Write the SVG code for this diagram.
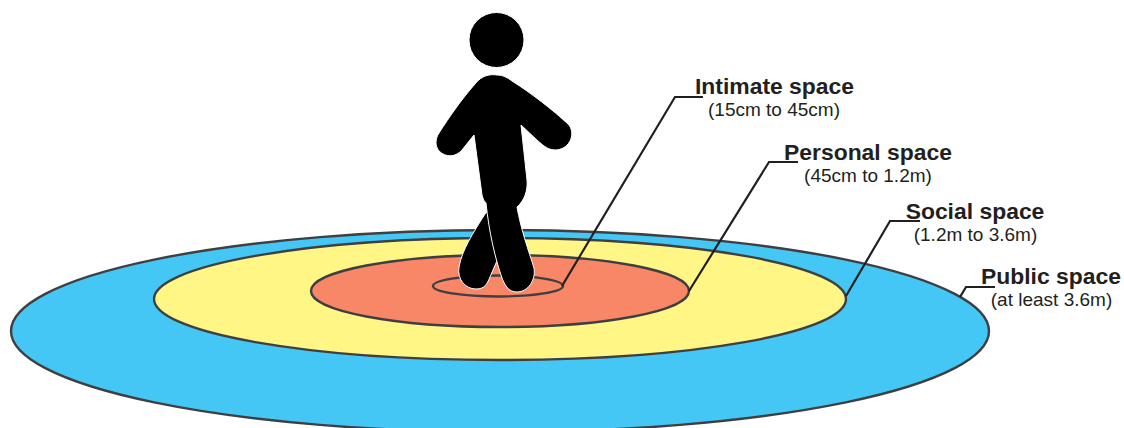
<svg xmlns="http://www.w3.org/2000/svg" width="1124" height="428" viewBox="0 0 1124 428">
<style>
.zone{stroke:#3f3f42;stroke-width:2.4}
.lead{fill:none;stroke:#231f20;stroke-width:2.2}
.title{font:bold 22.9px "Liberation Sans",Arial,sans-serif;fill:#231f20}
.sub{font:19px "Liberation Sans",Arial,sans-serif;fill:#231f20}
.fig{fill:#000;stroke:#fff;stroke-width:1}
text{text-anchor:middle}
</style>
<rect width="1124" height="428" fill="#fff"/>
<g id="public-zone"><ellipse class="zone" cx="500" cy="331" rx="489" ry="101" fill="#44c7f4"/></g>
<g id="social-zone"><ellipse class="zone" cx="500" cy="299" rx="346" ry="61" fill="#fff685"/></g>
<g id="personal-zone"><ellipse class="zone" cx="500" cy="291" rx="189" ry="36" fill="#f78766"/></g>
<g id="intimate-zone"><ellipse class="zone" cx="498" cy="286" rx="65" ry="10.5" fill="none"/></g>
<g id="connectors">
<path class="lead" d="M562 286L675 97H703"/>
<path class="lead" d="M689 291L769 162H798"/>
<path class="lead" d="M846 296L890 221H920"/>
<path class="lead" d="M960 297L966 287H995"/>
</g>
<g id="person">
<circle class="fig" cx="496.500" cy="40" r="27.500"/>
<path d="M485 214C473 233 462 250 459 267C457 279 465 289 476 289C485 289 487 284 490 277L506 240L495 205Z" fill="#000" stroke="#fff" stroke-width="1"/>
<path class="fig" d="M475 84C482 75 490 74 497 75C503 75 508 78 512 81C531 93 553 110 568 124C576 132 571 149 556 150C548 150 544 146 538 141C532 136 527 130 521 125L527 180C528 191 524 201 517 207C521 230 529 252 534 268C536 280 528 292 517 292C508 292 505 285 502 278C495 258 489 232 486 203C483 200 483 198 482 195L474 135L462 150C456 157 446 158 439 151C435 146 435 139 439 133C450 116 461 100 475 84Z"/>
</g>
<g id="label-intimate"><text class="title" x="774.500" y="94">Intimate space</text><text class="sub" x="774" y="116">(15cm to 45cm)</text></g>
<g id="label-personal"><text class="title" x="868" y="160">Personal space</text><text class="sub" x="868" y="182">(45cm to 1.2m)</text></g>
<g id="label-social"><text class="title" x="975" y="219">Social space</text><text class="sub" x="975.500" y="241">(1.2m to 3.6m)</text></g>
<g id="label-public"><text class="title" x="1051" y="284">Public space</text><text class="sub" x="1051.500" y="306">(at least 3.6m)</text></g>
</svg>
